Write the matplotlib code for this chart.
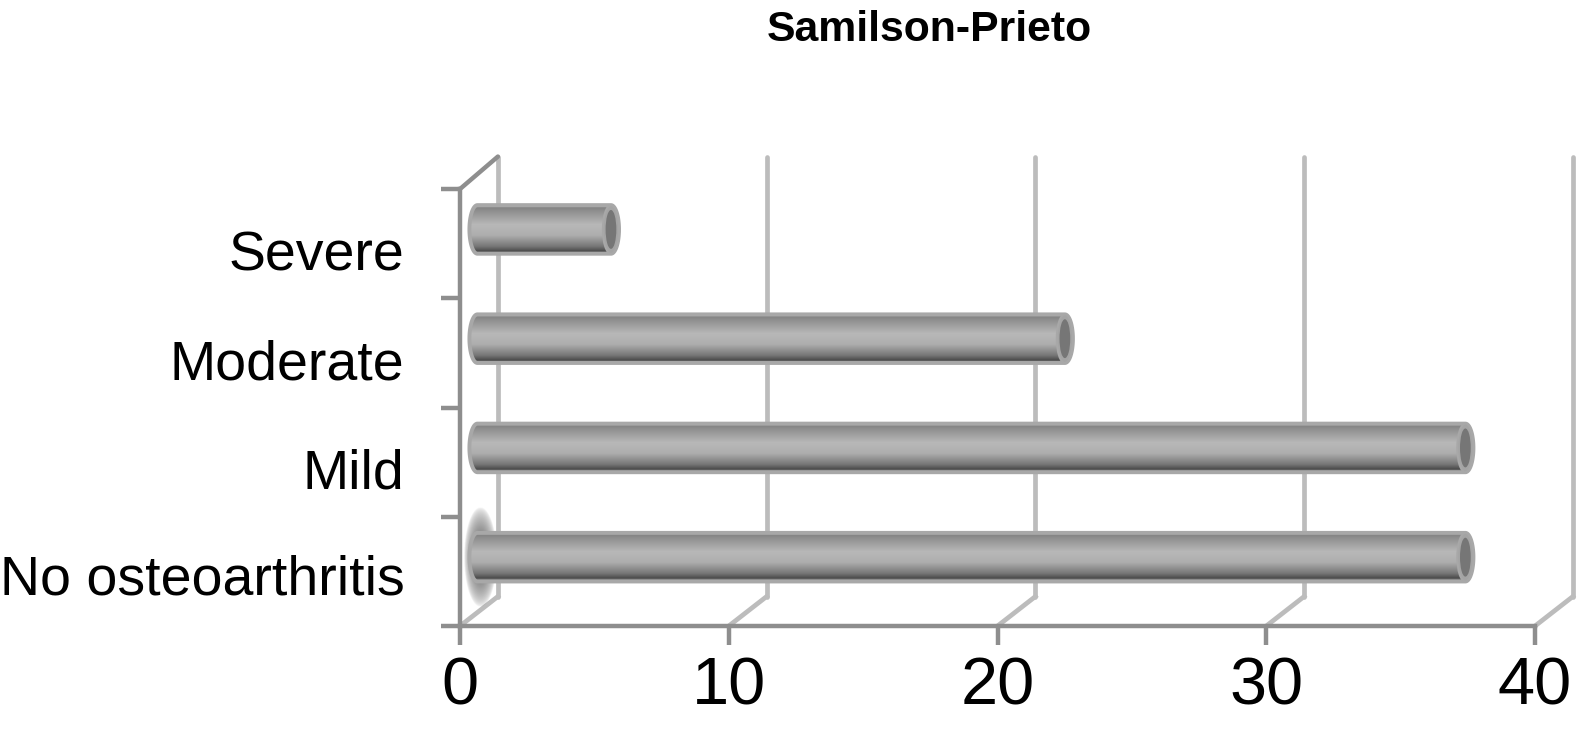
#!/usr/bin/env python3
"""Samilson-Prieto grades as a fake-3D horizontal cylinder chart."""
import numpy as np
import matplotlib
matplotlib.use("Agg")
import matplotlib.pyplot as plt
from matplotlib.patches import Ellipse, Polygon

CATEGORIES = ["No osteoarthritis", "Mild", "Moderate", "Severe"]
VALUES = [37, 37, 22, 5]
X_TICKS = [0, 10, 20, 30, 40]
TITLE = "Samilson-Prieto"

W, H = 1581, 741
AX_L, AX_R, AX_T, AX_B = 460, 1535, 189, 626
DEPTH_X, DEPTH_Y = 1.41, 0.27   # back wall shift, data units
BAR_START = 0.65
BAR_RX, BAR_H = 0.30, 0.445
BAR_SHIFT = 0.13
AXIS_DARK = "#8e8e8e"
WALL = "#bcbcbc"

plt.rcParams["font.family"] = ["Liberation Sans", "DejaVu Sans"]

fig = plt.figure(figsize=(W / 100, H / 100), dpi=100)
ax = fig.add_axes([AX_L / W, 1 - AX_B / H, (AX_R - AX_L) / W, (AX_B - AX_T) / H])


def draw_tube(ax, value, yc):
    x0, x1 = BAR_START, BAR_START + value * 26.7 / 26.875
    t = np.linspace(-np.pi / 2, np.pi / 2, 60)
    right = np.c_[x1 + BAR_RX * np.cos(t), yc + BAR_H / 2 * np.sin(t)]
    left = np.c_[x0 - BAR_RX * np.cos(t[::-1]), yc + BAR_H / 2 * np.sin(t[::-1])]
    outline = np.r_[right, left]

    stops = [0, 0.06, 0.12, 0.4, 0.62, 0.84, 0.94, 1]
    greys = [0.68, 0.52, 0.56, 0.72, 0.68, 0.47, 0.30, 0.62]
    ramp = np.interp(np.linspace(0, 1, 200), stops, greys)[:, None]
    im = ax.imshow(ramp, cmap="gray", vmin=0, vmax=1, aspect="auto", zorder=3,
                   extent=[x0 - BAR_RX, x1 + BAR_RX, yc - BAR_H / 2, yc + BAR_H / 2],
                   clip_on=True)
    patch = Polygon(outline, closed=True, fc="none", ec="#a8a8a8", lw=2.8, zorder=4,
                    clip_on=False)
    ax.add_patch(patch)
    im.set_clip_path(patch)
    ax.add_patch(Ellipse((x1, yc), 2 * BAR_RX, BAR_H, fc="#a4a4a4", ec="#a8a8a8",
                         lw=1.5, zorder=5, clip_on=False))
    ax.add_patch(Ellipse((x1, yc), 0.40, BAR_H * 0.80, fc="#767676", ec="none",
                         zorder=6, clip_on=False))


n = len(CATEGORIES)

# back wall and floor
for x in X_TICKS:
    ax.plot([x + DEPTH_X] * 2, [DEPTH_Y, n + DEPTH_Y * 1.1], color=WALL, lw=3.4,
            zorder=1, clip_on=False, solid_capstyle="round")
    ax.plot([x, x + DEPTH_X], [0, DEPTH_Y], color=WALL, lw=3.4, zorder=1, clip_on=False)
ax.plot([0, DEPTH_X], [n, n + DEPTH_Y * 1.1], color=AXIS_DARK, lw=3.2, zorder=2,
        clip_on=False, solid_capstyle="round")

# soft smudge behind the lowest tube
gx, gy = np.meshgrid(np.linspace(-1, 1, 80), np.linspace(-1, 1, 160))
smudge = np.zeros(gx.shape + (4,))
smudge[..., :3] = 0.3
smudge[..., 3] = 0.95 * np.clip(1 - np.hypot(gx, gy), 0, 1) ** 0.6
ax.imshow(smudge, aspect="auto", zorder=2, extent=[0.15, 1.35, 0.17, 1.08], clip_on=False)

for i, v in enumerate(VALUES):
    draw_tube(ax, v, i + 0.5 + BAR_SHIFT)

ax.set_xlim(0, 40)
ax.set_ylim(0, n)

for side in ("top", "right"):
    ax.spines[side].set_visible(False)
for side in ("left", "bottom"):
    ax.spines[side].set_color(AXIS_DARK)
    ax.spines[side].set_linewidth(3.2)
ax.patch.set_alpha(0)

ax.set_xticks(X_TICKS)
ax.set_xticklabels([str(x) for x in X_TICKS])
ax.tick_params(axis="x", length=14, width=3.2, color=AXIS_DARK, labelsize=48, pad=8)
ax.set_yticks(range(n + 1))
ax.set_yticklabels([])
ax.tick_params(axis="y", which="major", length=14, width=3.2, color=AXIS_DARK)
ax.set_yticks([0.47, 1.44, 2.44, 3.44], minor=True)
ax.set_yticklabels(CATEGORIES, minor=True, fontsize=40)
ax.tick_params(axis="y", which="minor", length=0, pad=40)

fig.text(929 / W, 1 - 30 / H, TITLE, fontsize=30.8, fontweight="bold",
         ha="center", va="center")

fig.savefig("out.png", dpi=100)
